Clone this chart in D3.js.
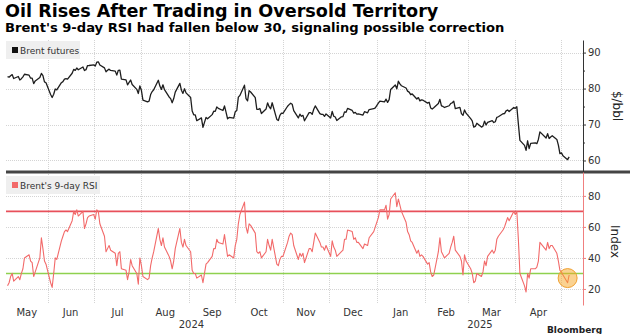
<!DOCTYPE html>
<html>
<head>
<meta charset="utf-8">
<script src="https://cdn.jsdelivr.net/npm/d3@7"></script>
<style>
  body { margin: 0; background: #fff; }
  svg { display: block; }
  text { font-family: "DejaVu Sans", Verdana, sans-serif; }
</style>
</head>
<body>
<svg id="chart" width="630" height="334"></svg>
<script>
// ---- data -------------------------------------------------------------
// ICE trading days from the first to the last session shown (weekdays, minus exchange holidays)
const tradingStart = "2024-05-06";
const tradingEnd = "2025-05-06";
const marketHolidays = ["2024-12-25", "2025-01-01", "2025-04-18"];

// Brent front-month settlement, $/bbl (one value per trading day, week by week)
const brentFutures = [
  83.33, 83.16, 83.58, 83.88, 82.79,
  83.36, 82.38, 82.75, 83.27, 83.98,
  83.71, 82.88, 82.90, 81.36, 82.12,
  83.10, 84.22, 83.60, 81.86, 81.62,
  78.36, 77.52, 78.41, 79.87, 79.62,
  81.63, 81.92, 82.60, 82.75, 82.62,
  84.25, 85.33, 85.07, 85.71, 85.24,
  86.01, 85.01, 85.25, 86.39, 86.41,
  86.60, 86.24, 87.34, 87.43, 86.54,
  85.75, 84.66, 85.08, 85.40, 85.03,
  84.85, 83.73, 85.08, 85.11, 82.63,
  82.40, 81.01, 81.71, 82.37, 81.13,
  79.78, 78.63, 80.72, 79.52, 76.81,
  76.30, 76.48, 78.33, 79.16, 79.66,
  82.30, 80.69, 79.76, 81.04, 79.68,
  77.66, 77.20, 76.05, 77.22, 79.02,
  81.43, 79.55, 78.65, 79.94, 78.80,
  77.52, 73.75, 72.70, 72.69, 71.06,
  71.84, 69.19, 70.61, 71.97, 71.61,
  72.75, 73.70, 73.65, 74.88, 74.49,
  73.90, 75.17, 73.46, 71.60, 71.98,
  71.77, 73.56, 73.90, 77.62, 78.05,
  80.93, 77.18, 76.58, 79.40, 79.04,
  77.46, 74.25, 74.22, 74.45, 73.06,
  74.29, 76.04, 74.96, 74.38, 76.05,
  71.42, 71.12, 72.55, 73.16, 73.10,
  75.08, 75.53, 75.92, 75.63, 73.87,
  71.83, 72.89, 72.28, 72.56, 71.04,
  73.30, 73.31, 72.81, 74.23, 75.17,
  73.01, 72.81, 72.83, 72.28, 72.94,
  71.83, 73.62, 72.31, 72.09, 71.12,
  72.14, 72.19, 73.52, 73.41, 74.49,
  73.91, 73.19, 73.39, 72.88, 72.94,
  72.63, 73.58, 73.26, 74.17,
  74.39, 74.64, 75.93, 76.51,
  76.30, 77.05, 76.16, 76.92, 79.76,
  81.01, 79.92, 82.03, 81.29, 80.79,
  80.15, 79.29, 79.00, 78.29, 78.50,
  77.08, 77.49, 76.58, 76.87, 76.76,
  75.96, 76.20, 74.61, 74.29, 74.66,
  75.87, 77.00, 75.18, 75.02, 74.74,
  75.22, 75.84, 76.04, 76.48, 74.43,
  74.78, 73.02, 72.53, 74.04, 73.18,
  71.62, 71.04, 69.30, 69.46, 70.36,
  69.28, 69.56, 70.95, 69.88, 70.58,
  71.07, 70.56, 70.78, 72.00, 72.16,
  73.00, 73.02, 73.79, 74.03, 73.63,
  74.74, 74.49, 74.95, 70.14, 65.58,
  64.21, 62.82, 65.48, 63.33, 64.76,
  64.88, 64.67, 65.85, 67.96,
  66.26, 67.44, 66.12, 66.55, 66.87,
  65.86, 64.25, 61.90, 62.13, 61.29,
  60.23, 61.00
];

// Brent 9-day relative strength index, same trading days
const rsi9 = [
  22, 24, 28, 30, 25,
  28, 26, 30, 33, 40,
  42, 38, 37, 28, 31,
  40, 53, 46, 38, 36,
  24, 21, 30, 40, 39,
  51, 54, 57, 58, 57,
  64, 70, 68, 71, 67,
  70, 59, 62, 66, 67,
  68, 65, 71, 70, 62,
  54, 44, 46, 48, 45,
  43, 35, 43, 44, 33,
  32, 26, 31, 39, 35,
  30, 23, 40, 35, 28,
  26, 27, 35, 40, 44,
  59, 52, 48, 53, 47,
  41, 38, 33, 38, 46,
  59, 50, 47, 52, 48,
  44, 32, 30, 30, 27,
  29, 24, 30, 36, 37,
  41, 46, 46, 52, 50,
  49, 55, 48, 41, 42,
  40, 48, 52, 62, 68,
  76, 60, 56, 62, 61,
  56, 44, 43, 44, 40,
  44, 52, 48, 45, 52,
  36, 35, 39, 41, 41,
  50, 54, 56, 55, 48,
  39, 43, 41, 43, 37,
  46, 46, 44, 50, 56,
  50, 47, 47, 45, 48,
  41, 51, 47, 45, 41,
  44, 45, 52, 52, 58,
  57, 52, 53, 50, 50,
  46, 49, 48, 53,
  57, 60, 66, 71,
  71, 74, 65, 68, 78,
  82, 73, 78, 74, 70,
  63, 57, 55, 51, 50,
  43, 45, 41, 42, 41,
  36, 37, 31, 28, 29,
  44, 53, 44, 42, 40,
  43, 47, 50, 54, 45,
  41, 38, 29, 42, 38,
  33, 30, 24, 25, 30,
  28, 31, 38, 35, 41,
  45, 43, 45, 52, 54,
  58, 60, 63, 66, 64,
  70, 68, 70, 52, 30,
  22, 18, 30, 27, 33,
  33, 34, 38, 50,
  45, 50, 46, 48, 48,
  43, 38, 32, 31, 29,
  24, 29
];

const overbought = 70;
const oversold = 30;
const priceTicks = [60, 70, 80, 90];
const priceMinorTicks = [65, 75, 85];
const rsiTicks = [20, 40, 60, 80];
const oversoldMark = { date: "2025-05-05", value: 27 };

const titleText = "Oil Rises After Trading in Oversold Territory";
const subtitleText = "Brent's 9-day RSI had fallen below 30, signaling possible correction";

// ---- build ------------------------------------------------------------
const parse = d3.utcParse("%Y-%m-%d");
const fmt = d3.utcFormat("%Y-%m-%d");
const holidaySet = new Set(marketHolidays);
const tradingDays = d3.utcDay
  .range(parse(tradingStart), d3.utcDay.offset(parse(tradingEnd), 1))
  .filter(d => d.getUTCDay() !== 0 && d.getUTCDay() !== 6 && !holidaySet.has(fmt(d)));

const series = tradingDays.map((date, i) => ({ date, price: brentFutures[i], rsi: rsi9[i] }));

const svg = d3.select("#chart");
const W = 630;
const plotLeft = 6, plotRight = 583;
const topPanel = { top: 40, bottom: 172 };
const lowPanel = { top: 172, bottom: 305 };

const x = d3.scaleUtc()
  .domain([parse("2024-05-05"), parse("2025-05-15")])
  .range([plotLeft, plotRight]);

const yPrice = d3.scaleLinear().domain([56.8, 93.5]).range([topPanel.bottom, topPanel.top]);
const yRsi = d3.scaleLinear().domain([9.65, 95.4]).range([lowPanel.bottom, lowPanel.top]);

// titles
svg.append("text").attr("x", 5).attr("y", 17)
  .attr("font-size", 17.6).attr("font-weight", "bold").attr("fill", "#000")
  .text(titleText);
svg.append("text").attr("x", 5).attr("y", 32)
  .attr("font-size", 13.1).attr("font-weight", "bold").attr("fill", "#000")
  .text(subtitleText);

const grid = svg.append("g").attr("fill", "none").attr("stroke", "#d4d4d4")
  .attr("stroke-width", 1).attr("stroke-dasharray", "1,1");

// month boundaries
const monthStarts = d3.utcMonth.range(parse("2024-06-01"), parse("2025-05-02"));
grid.selectAll("line.v").data(monthStarts).join("line")
  .attr("x1", d => Math.round(x(d)) + 0.5).attr("x2", d => Math.round(x(d)) + 0.5)
  .attr("y1", topPanel.top).attr("y2", lowPanel.bottom - 1);

// horizontal grids
grid.selectAll("line.hp").data(priceTicks).join("line")
  .attr("x1", plotLeft).attr("x2", plotRight)
  .attr("y1", d => Math.round(yPrice(d)) + 0.5).attr("y2", d => Math.round(yPrice(d)) + 0.5);
const grid2 = svg.append("g").attr("fill", "none").attr("stroke", "#d4d4d4")
  .attr("stroke-width", 1).attr("stroke-dasharray", "1,1");
grid2.selectAll("line").data(rsiTicks).join("line")
  .attr("x1", plotLeft).attr("x2", plotRight)
  .attr("y1", d => Math.round(yRsi(d)) + 0.5).attr("y2", d => Math.round(yRsi(d)) + 0.5);

// RSI thresholds
svg.append("line").attr("x1", plotLeft).attr("x2", plotRight)
  .attr("y1", yRsi(overbought)).attr("y2", yRsi(overbought))
  .attr("stroke", "#e8505b").attr("stroke-width", 1.6);
svg.append("line").attr("x1", plotLeft).attr("x2", plotRight)
  .attr("y1", yRsi(oversold)).attr("y2", yRsi(oversold))
  .attr("stroke", "#8fd14f").attr("stroke-width", 1.6);

// price line
svg.append("path").datum(series)
  .attr("fill", "none").attr("stroke", "#1e1e1e").attr("stroke-width", 1.3)
  .attr("stroke-linejoin", "round")
  .attr("d", d3.line().x(d => x(d.date)).y(d => yPrice(d.price)));

// RSI line
svg.append("path").datum(series)
  .attr("fill", "none").attr("stroke", "#f26a6a").attr("stroke-width", 1.1)
  .attr("stroke-linejoin", "round")
  .attr("d", d3.line().x(d => x(d.date)).y(d => yRsi(d.rsi)));

// oversold highlight
svg.append("circle")
  .attr("cx", x(parse(oversoldMark.date))).attr("cy", yRsi(oversoldMark.value)).attr("r", 9.5)
  .attr("fill", "#f5a623").attr("fill-opacity", 0.5)
  .attr("stroke", "#f0a030").attr("stroke-width", 1);

// panel separator
svg.append("line").attr("x1", plotLeft).attr("x2", W)
  .attr("y1", topPanel.bottom).attr("y2", topPanel.bottom)
  .attr("stroke", "#444").attr("stroke-width", 3);

// right axes
const priceAxis = svg.append("g").attr("transform", `translate(${plotRight},0)`)
  .call(d3.axisRight(yPrice).tickValues(priceTicks).tickSize(3).tickSizeOuter(0).tickPadding(2));
priceAxis.select(".domain").attr("stroke", "#333");
priceAxis.selectAll(".tick line").attr("stroke", "#333");
priceAxis.selectAll(".tick text").attr("fill", "#333").attr("font-size", 10)
  .attr("font-family", "DejaVu Sans, sans-serif");
svg.append("g").attr("transform", `translate(${plotRight},0)`)
  .call(d3.axisRight(yPrice).tickValues(priceMinorTicks).tickSize(2).tickSizeOuter(0).tickFormat(""))
  .call(g => g.select(".domain").remove())
  .selectAll(".tick line").attr("stroke", "#333");

const rsiAxis = svg.append("g").attr("transform", `translate(${plotRight},0)`)
  .call(d3.axisRight(yRsi).tickValues(rsiTicks).tickSize(3).tickSizeOuter(0).tickPadding(2));
rsiAxis.select(".domain").attr("stroke", "#f07f7f");
rsiAxis.selectAll(".tick line").attr("stroke", "#f07f7f");
rsiAxis.selectAll(".tick text").attr("fill", "#333").attr("font-size", 10)
  .attr("font-family", "DejaVu Sans, sans-serif");

// axis titles
svg.append("text")
  .attr("transform", `translate(613, ${(topPanel.top + topPanel.bottom) / 2}) rotate(90)`)
  .attr("text-anchor", "middle").attr("font-size", 12).attr("fill", "#222").text("$/bbl");
svg.append("text")
  .attr("transform", `translate(611, ${(lowPanel.top + lowPanel.bottom) / 2 + 3}) rotate(90)`)
  .attr("text-anchor", "middle").attr("font-size", 12).attr("fill", "#222").text("Index");

// legends
function legend(y0, w, color, label) {
  const g = svg.append("g");
  g.append("rect").attr("x", plotLeft).attr("y", y0).attr("width", w).attr("height", 18)
    .attr("fill", "#efefef");
  g.append("rect").attr("x", 12).attr("y", y0 + 6).attr("width", 6).attr("height", 6).attr("fill", color);
  g.append("text").attr("x", 20).attr("y", y0 + 12.5).attr("font-size", 9).attr("fill", "#333")
    .text(label);
}
legend(41, 74, "#111", "Brent futures");
legend(176, 94, "#f26a6a", "Brent's 9-day RSI");

// month labels
const months = d3.utcMonth.range(parse("2024-05-01"), parse("2025-05-01"));
svg.append("g").selectAll("text").data(months).join("text")
  .attr("x", d => {
    const a = Math.max(plotLeft, x(d));
    const b = Math.min(plotRight, x(d3.utcMonth.offset(d, 1)));
    return (a + b) / 2;
  })
  .attr("y", 316).attr("text-anchor", "middle").attr("font-size", 10).attr("fill", "#333")
  .text(d3.utcFormat("%b"));

// year labels
const years = [parse("2024-01-01"), parse("2025-01-01")];
svg.append("g").selectAll("text").data(years).join("text")
  .attr("x", d => {
    const a = Math.max(plotLeft, x(d));
    const b = Math.min(plotRight, x(d3.utcYear.offset(d, 1)));
    return (a + b) / 2;
  })
  .attr("y", 328).attr("text-anchor", "middle").attr("font-size", 10).attr("fill", "#333")
  .text(d3.utcFormat("%Y"));

// source mark
svg.append("text").attr("x", 547).attr("y", 332.5).attr("font-size", 9).attr("font-weight", "bold")
  .attr("fill", "#222").text("Bloomberg");
</script>
</body>
</html>
